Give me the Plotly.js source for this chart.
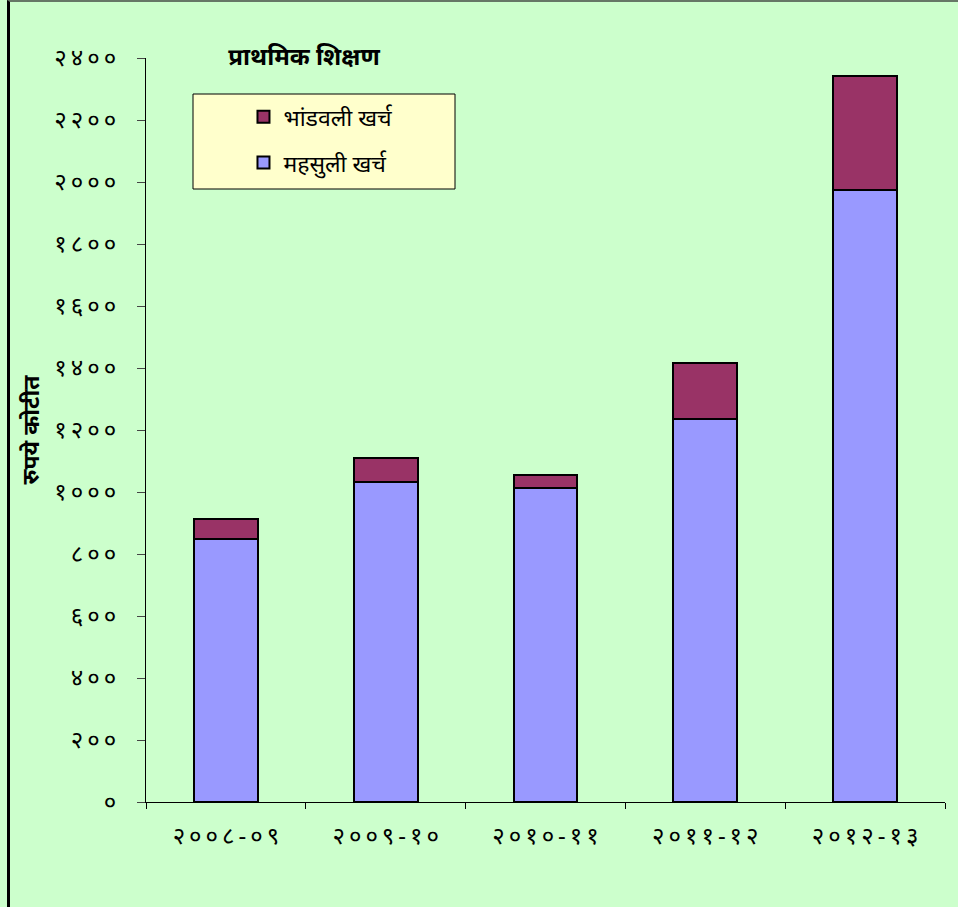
<!DOCTYPE html>
<html>
<head>
<meta charset="utf-8">
<script src="https://cdn.plot.ly/plotly-3.0.1.min.js"></script>
<style>
html,body{margin:0;padding:0;background:#CCFFCC;}
#chart{position:absolute;left:0;top:0;width:958px;height:907px;}
#border{position:absolute;left:7px;top:0;width:960px;height:907px;box-sizing:border-box;border-left:3px solid #000;border-top:2px solid #667766;pointer-events:none;}
</style>
</head>
<body>
<div id="chart"></div>
<div id="border"></div>
<script>
// Data
const categories = ["२००८-०९", "२००९-१०", "२०१०-११", "२०११-१२", "२०१२-१३"];
const revenueExpense = [848, 1033, 1014, 1234, 1973];   // महसुली खर्च
const capitalExpense = [64, 76, 42, 181, 368];          // भांडवली खर्च
const yTickValues = [0, 200, 400, 600, 800, 1000, 1200, 1400, 1600, 1800, 2000, 2200, 2400];
const yTickLabels = ["०", "२००", "४००", "६००", "८००", "१०००", "१२००", "१४००", "१६००", "१८००", "२०००", "२२००", "२४००"];

const spaced = s => s.split('').join('\u2009');

const font = "Noto Sans, Noto Sans Devanagari, DejaVu Sans, sans-serif";

const traces = [
  {
    type: 'bar', name: 'महसुली खर्च', x: categories.map(spaced), y: revenueExpense,
    marker: {color: '#9999FF', line: {color: '#000000', width: 2}},
    width: 0.4, legendgroup: 'a', legendrank: 2, hoverinfo: 'skip'
  },
  {
    type: 'bar', name: 'भांडवली खर्च', x: categories.map(spaced), y: capitalExpense,
    marker: {color: '#993366', line: {color: '#000000', width: 2}},
    width: 0.4, legendgroup: 'b', legendrank: 1, hoverinfo: 'skip'
  }
];

const layout = {
  width: 958, height: 907,
  paper_bgcolor: '#CCFFCC', plot_bgcolor: '#CCFFCC',
  margin: {l: 146, r: 13, t: 58, b: 105},
  barmode: 'stack',
  font: {family: font, color: '#000', size: 19},
  title: {
    text: '<b>प्राथमिक शिक्षण</b>', font: {size: 24, family: font, color: '#000'},
    x: 304/958, xanchor: 'center', y: 1 - 57/907, yanchor: 'middle'
  },
  xaxis: {
    type: 'category', showgrid: false, showline: true, linecolor: '#000', linewidth: 1,
    ticks: 'outside', tickson: 'boundaries', ticklen: 6, tickcolor: '#000',
    tickfont: {size: 24, family: font}, ticklabelstandoff: 12
  },
  yaxis: {
    range: [0, 2400], showgrid: false, zeroline: false, showline: true, linecolor: '#000', linewidth: 1,
    ticks: 'outside', ticklen: 8, tickcolor: '#444',
    tickvals: yTickValues, ticktext: yTickLabels.map(spaced),
    tickfont: {size: 24, family: font}, ticklabelstandoff: 16,
    title: {text: '<b>रुपये कोटीत</b>', font: {size: 23, family: font}, standoff: 8}
  },
  showlegend: true,
  legend: {
    x: 0.122, y: 0.95, xanchor: 'left', yanchor: 'top',
    bgcolor: 'rgba(0,0,0,0)', borderwidth: 0,
    traceorder: 'grouped', tracegroupgap: 13,
    font: {size: 23, family: font}
  },
  shapes: [{
    type: 'rect', xref: 'paper', yref: 'paper',
    x0: (193-146)/799, x1: (455-146)/799, y0: (802-189)/744, y1: (802-94)/744,
    fillcolor: '#FFFFCC', line: {color: '#000', width: 1}, layer: 'above'
  }]
};

Plotly.newPlot('chart', traces, layout, {staticPlot: true});
</script>
</body>
</html>
